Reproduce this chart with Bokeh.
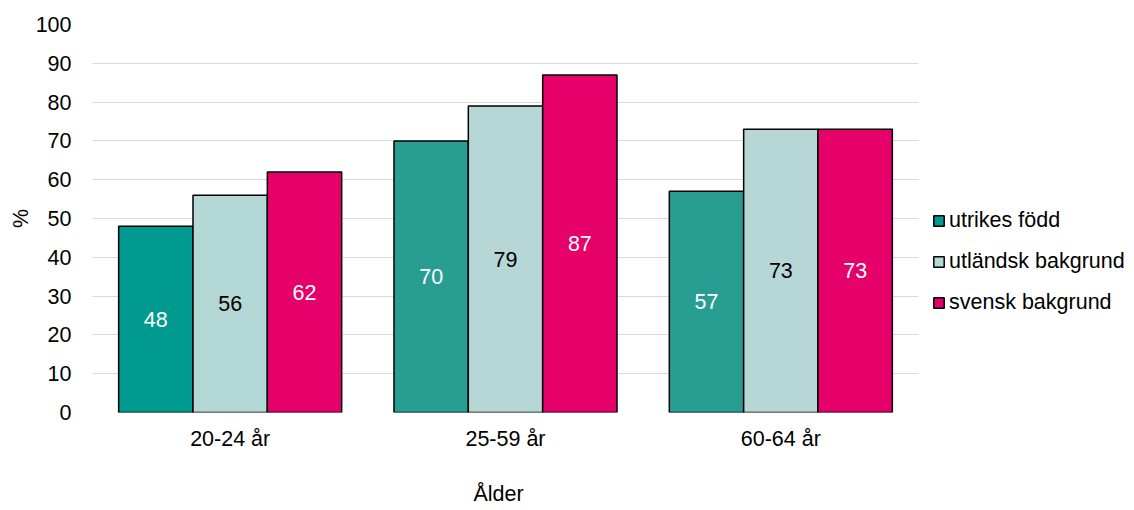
from bokeh.plotting import figure
from bokeh.models import ColumnDataSource, Range1d, FixedTicker, Legend, LegendItem, BoxAnnotation, Title
from bokeh.core.properties import value as V
from bokeh.embed import file_html
from bokeh.resources import INLINE

groups = ["20-24 år", "25-59 år", "60-64 år"]
series = ["utrikes född", "utländsk bakgrund", "svensk bakgrund"]
utrikes_fodd = [48, 70, 57]
utlandsk_bakgrund = [56, 79, 73]
svensk_bakgrund = [62, 87, 73]
y_ticks = [0, 10, 20, 30, 40, 50, 60, 70, 80, 90, 100]

values = [utrikes_fodd, utlandsk_bakgrund, svensk_bakgrund]
colors = [["#009A8E", "#289E93", "#289E93"],
          ["#B3D8D5", "#B6D7D5", "#B6D7D5"],
          ["#E5006A", "#E5006A", "#E5006A"]]
text_colors = ["white", "black", "white"]
offsets = [-0.27, 0.0, 0.27]
BAR_W = 0.27
FONT = "Liberation Sans"
FS = "21.5px"

group_pos = list(range(len(groups)))
# plot area: groups fill 826px of frame; frame extends to the right edge so the legend fits inside
X_END = -0.5 + (1134 - 92) / (826 / 3)

p = figure(x_range=Range1d(-0.5, X_END), y_range=Range1d(0, 100), width=1134, height=510,
           output_backend="svg", toolbar_location=None,
           min_border_left=92, min_border_right=0, min_border_top=24, min_border_bottom=97)
p.outline_line_color = None
p.background_fill_color = "white"
p.xgrid.grid_line_color = None
p.ygrid.grid_line_color = "#D9D9D9"
p.ygrid.grid_line_width = 1

p.yaxis.ticker = FixedTicker(ticks=y_ticks)
p.xaxis.ticker = FixedTicker(ticks=group_pos)
p.xaxis.major_label_overrides = {i: g for i, g in enumerate(groups)}
for ax in (p.xaxis[0], p.yaxis[0]):
    ax.axis_line_color = None
    ax.major_tick_line_color = None
    ax.minor_tick_line_color = None
    ax.major_tick_in = 0
    ax.major_tick_out = 0
    ax.minor_tick_in = 0
    ax.minor_tick_out = 0
    ax.major_label_text_font = FONT
    ax.major_label_text_font_size = FS
    ax.major_label_text_color = "#000000"
    ax.axis_label_text_font = FONT
    ax.axis_label_text_font_size = FS
    ax.axis_label_text_font_style = "normal"
    ax.axis_label_text_color = "#000000"
p.yaxis.major_label_standoff = 21
p.xaxis.major_label_standoff = 14
p.yaxis.axis_label = "%"
p.yaxis.axis_label_standoff = 0

# spacer between tick labels and the x-axis title
spacer = Title(text=" ", text_font_size="1px", standoff=19)
p.add_layout(spacer, "below")
# x-axis title centred under the three groups (not under the legend area)
xtitle = Title(text="Ålder", align="left", offset=381, standoff=9,
               text_font=FONT, text_font_size=FS, text_font_style="normal", text_color="#000000")
p.add_layout(xtitle, "below")

# blank out the grid to the right of the plot area (legend region)
p.add_layout(BoxAnnotation(left=2.5, fill_color="white", fill_alpha=1.0, line_color=None))

renderers = []
for i, name in enumerate(series):
    xs = [g + offsets[i] for g in group_pos]
    src = ColumnDataSource(dict(
        x=xs,
        value=values[i],
        mid=[v / 2 for v in values[i]],
        label=[str(v) for v in values[i]],
        color=colors[i],
    ))
    r = p.vbar(x="x", top="value", width=BAR_W, source=src,
               fill_color="color", line_color="black", line_width=1.5)
    p.text(x="x", y="mid", text="label", source=src,
           text_align="center", text_baseline="middle", text_color=text_colors[i],
           text_font_size=FS, text_font=V(FONT))
    renderers.append(r)

legend = Legend(items=[LegendItem(label=s, renderers=[r]) for s, r in zip(series, renderers)],
                location=(840, 97), orientation="vertical",
                glyph_width=13, glyph_height=13, label_height=22, spacing=16,
                label_standoff=4, padding=0, margin=0,
                border_line_color=None, background_fill_alpha=0,
                label_text_font=FONT, label_text_font_size=FS, label_text_color="#000000")
p.add_layout(legend, "center")

open("out.html", "w").write(file_html(p, INLINE))
